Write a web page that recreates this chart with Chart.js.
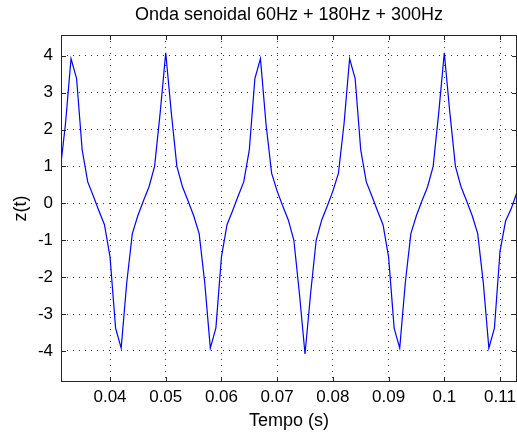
<!DOCTYPE html>
<html>
<head>
<meta charset="utf-8">
<script src="https://cdn.jsdelivr.net/npm/chart.js@4.4.0/dist/chart.umd.min.js"></script>
<style>
  html, body { margin: 0; padding: 0; background: #fff; }
  #chart { display: block; }
</style>
</head>
<body>
<canvas id="chart" width="517" height="434"></canvas>
<script>
const tValues = [
  0.031, 0.032, 0.033, 0.034, 0.035, 0.036, 0.037, 0.038, 0.039, 0.040,
  0.041, 0.042, 0.043, 0.044, 0.045, 0.046, 0.047, 0.048, 0.049, 0.050,
  0.051, 0.052, 0.053, 0.054, 0.055, 0.056, 0.057, 0.058, 0.059, 0.060,
  0.061, 0.062, 0.063, 0.064, 0.065, 0.066, 0.067, 0.068, 0.069, 0.070,
  0.071, 0.072, 0.073, 0.074, 0.075, 0.076, 0.077, 0.078, 0.079, 0.080,
  0.081, 0.082, 0.083, 0.084, 0.085, 0.086, 0.087, 0.088, 0.089, 0.090,
  0.091, 0.092, 0.093, 0.094, 0.095, 0.096, 0.097, 0.098, 0.099, 0.100,
  0.101, 0.102, 0.103, 0.104, 0.105, 0.106, 0.107, 0.108, 0.109, 0.110,
  0.111, 0.112, 0.113
];
const zValues = [
  0.82, 2.15, 3.92, 3.38, 1.45, 0.58, 0.20, -0.20, -0.58, -1.45,
  -3.38, -3.92, -2.15, -0.82, -0.33, 0.07, 0.45, 1.00, 2.45, 4.08,
  2.45, 1.00, 0.45, 0.07, -0.33, -0.82, -2.15, -3.92, -3.38, -1.45,
  -0.58, -0.20, 0.20, 0.58, 1.45, 3.38, 3.92, 2.15, 0.82, 0.33,
  -0.07, -0.45, -1.00, -2.45, -4.08, -2.45, -1.00, -0.45, -0.07, 0.33,
  0.82, 2.15, 3.92, 3.38, 1.45, 0.58, 0.20, -0.20, -0.58, -1.45,
  -3.38, -3.92, -2.15, -0.82, -0.33, 0.07, 0.45, 1.00, 2.45, 4.08,
  2.45, 1.00, 0.45, 0.07, -0.33, -0.82, -2.15, -3.92, -3.38, -1.30,
  -0.48, -0.15, 0.28
];
const xTicks = [0.04, 0.05, 0.06, 0.07, 0.08, 0.09, 0.1, 0.11];
const yTicks = [-4, -3, -2, -1, 0, 1, 2, 3, 4];

const FONT = "'Liberation Sans', Arial, sans-serif";
const INK = "#000";
const AXIS = "#262626";

// matlab style box with inward ticks
const boxPlugin = {
  id: "box",
  afterDraw(chart) {
    const { ctx, chartArea: a, scales: { x, y } } = chart;
    ctx.save();
    ctx.strokeStyle = AXIS;
    ctx.lineWidth = 1;
    ctx.setLineDash([]);
    ctx.strokeRect(a.left + 0.5, a.top + 0.5, a.right - a.left - 1, a.bottom - a.top - 1);
    ctx.beginPath();
    for (const v of xTicks) {
      const px = Math.round(x.getPixelForValue(v)) + 0.5;
      ctx.moveTo(px, a.bottom); ctx.lineTo(px, a.bottom - 5);
      ctx.moveTo(px, a.top); ctx.lineTo(px, a.top + 5);
    }
    for (const v of yTicks) {
      const py = Math.round(y.getPixelForValue(v)) + 0.5;
      ctx.moveTo(a.left, py); ctx.lineTo(a.left + 5, py);
      ctx.moveTo(a.right, py); ctx.lineTo(a.right - 5, py);
    }
    ctx.stroke();
    ctx.restore();
  }
};

new Chart(document.getElementById("chart"), {
  type: "line",
  data: {
    datasets: [{
      data: tValues.map((t, i) => ({ x: t, y: zValues[i] })),
      borderColor: "#0000ff",
      borderWidth: 1.2,
      pointRadius: 0,
      tension: 0,
      fill: false
    }]
  },
  options: {
    responsive: false,
    animation: false,
    layout: { padding: 0 },
    plugins: {
      legend: { display: false },
      tooltip: { enabled: false },
      title: {
        display: true,
        text: "Onda senoidal 60Hz + 180Hz + 300Hz",
        fullSize: false,
        color: INK,
        font: { family: FONT, size: 18, weight: "normal", lineHeight: 1.2 },
        padding: { top: 4, bottom: 9.4 }
      }
    },
    scales: {
      x: {
        type: "linear",
        min: 0.0312,
        max: 0.11305,
        afterFit: s => { s.height = 52; s.paddingLeft = 0; s.paddingRight = 0; },
        afterBuildTicks: s => { s.ticks = xTicks.map(v => ({ value: v })); },
        grid: { color: "#333", lineWidth: 1, drawTicks: false },
        border: { display: false, dash: [1, 5] },
        ticks: {
          color: INK,
          padding: 5,
          maxRotation: 0,
          font: { family: FONT, size: 17 },
          callback: v => String(Number(v.toFixed(3)))
        },
        title: {
          display: true,
          text: "Tempo (s)",
          color: INK,
          font: { family: FONT, size: 18 },
          padding: { top: 0, bottom: 2 }
        }
      },
      y: {
        type: "linear",
        min: -4.84,
        max: 4.56,
        afterFit: s => { s.width = 61; s.paddingTop = 0; s.paddingBottom = 0; },
        afterBuildTicks: s => { s.ticks = yTicks.map(v => ({ value: v })); },
        grid: { color: "#333", lineWidth: 1, drawTicks: false },
        border: { display: false, dash: [1, 5] },
        ticks: {
          color: INK,
          padding: 8,
          font: { family: FONT, size: 17 },
          callback: v => String(v)
        },
        title: {
          display: true,
          text: "z(t)",
          color: INK,
          font: { family: FONT, size: 18 },
          padding: { top: 10, bottom: 0 }
        }
      }
    }
  },
  plugins: [boxPlugin]
});
</script>
</body>
</html>
